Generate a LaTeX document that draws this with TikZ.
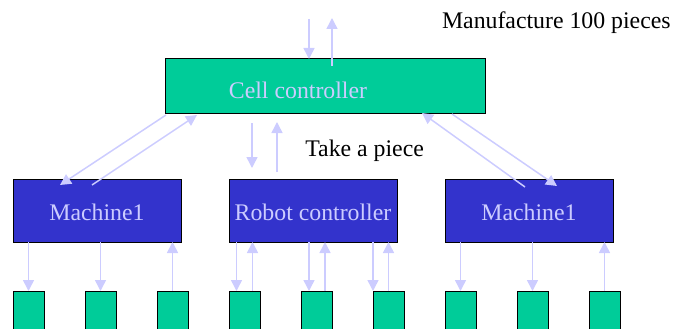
\documentclass[tikz,border=0pt]{standalone}
\usepackage{fontspec}
\setmainfont{Liberation Serif}
\newfontfamily\slidefont{Liberation Serif}
\usetikzlibrary{arrows.meta, positioning, calc}
\definecolor{CellGreen}{RGB}{0,204,153}
\definecolor{UnitBlue}{RGB}{51,51,204}
\definecolor{Lavender}{RGB}{204,204,255}

\begin{document}
\begin{tikzpicture}[x=1pt, y=-1pt, outer sep=0pt,
  font=\slidefont\fontsize{23.8}{28}\selectfont,
  link/.style={draw=Lavender, line width=1.5pt, -{Triangle[width=11pt,length=11pt]}},
  cellbox/.style={draw=black, line width=1pt, fill=CellGreen, text=Lavender, minimum width=320pt, minimum height=55pt, text height=25pt, text depth=0pt},
  unitbox/.style={draw=black, line width=1pt, fill=UnitBlue, text=Lavender, minimum width=168pt, minimum height=63pt, text height=19pt, text depth=0pt},
  partbox/.style={draw=black, line width=1pt, fill=CellGreen, minimum width=31pt, minimum height=50pt}]
\useasboundingbox (0,0) rectangle (678,329);
\node[cellbox] (cell) at (325,86.5) {Cell controller\hspace*{54pt}};
\node[unitbox] (machL) at (97,210.5) {Machine1};
\node[unitbox, right=48pt of machL] (robot) {Robot controller};
\node[unitbox, right=48pt of robot] (machR) {Machine1};
\node[partbox] (p1) at (28.5,316) {};
\node[partbox, right=41pt of p1] (p2) {};
\node[partbox, right=41pt of p2] (p3) {};
\node[partbox, right=41pt of p3] (p4) {};
\node[partbox, right=41pt of p4] (p5) {};
\node[partbox, right=41pt of p5] (p6) {};
\node[partbox, right=41pt of p6] (p7) {};
\node[partbox, right=41pt of p7] (p8) {};
\node[partbox, right=41pt of p8] (p9) {};
\node[anchor=base east] (order) at (674,29) {Manufacture 100 pieces};
\node[anchor=base west] (task) at (302,156) {Take a piece};
% orders from above
\coordinate (orderin) at (309,19);
\coordinate (orderout) at (332,18);
\draw[link] (orderin) -- (orderin |- cell.north);
\draw[link] ($(orderout |- cell.north)+(0,7)$) -- (orderout);
% cell controller <-> units
\draw[link] ($(cell.south west)+(1,1)$) -- ($(machL.north west)+(47,6)$);
\draw[link] ($(machL.north)+(-5,6)$) -- ($(cell.south west)+(32,1)$);
\draw[link] ($(cell.south)+(-73,9)$) -- ($(robot.north)+(-61,-11)$);
\draw[link] ($(robot.north)+(-36,-7)$) -- ($(cell.south)+(-48,8)$);
\draw[link] ($(cell.south east)+(-33,0)$) -- ($(machR.north east)+(-56,7)$);
\draw[link] ($(machR.north)+(-4,8)$) -- ($(cell.south east)+(-63,-1)$);
% units <-> parts
\draw[link] (machL.south -| p1) -- (p1.north);
\draw[link] (machL.south -| p2) -- (p2.north);
\draw[link] (p3.north) -- (machL.south -| p3);
\draw[link] ($(p4.north)+(-8,-49)$) -- ($(p4.north)+(-8,0)$);
\draw[link] ($(p4.north)+(8,0)$) -- ($(p4.north)+(8,-49)$);
\draw[link] ($(p5.north)+(-7.5,-49)$) -- ($(p5.north)+(-7.5,0)$);
\draw[link] ($(p5.north)+(8.5,0)$) -- ($(p5.north)+(8.5,-49)$);
\draw[link] ($(p6.north)+(-15.5,-49)$) -- ($(p6.north)+(-15.5,0)$);
\draw[link] (p6.north) -- (robot.south -| p6);
\draw[link] (machR.south -| p7) -- (p7.north);
\draw[link] (machR.south -| p8) -- (p8.north);
\draw[link] (p9.north) -- (machR.south -| p9);
\end{tikzpicture}
\end{document}
